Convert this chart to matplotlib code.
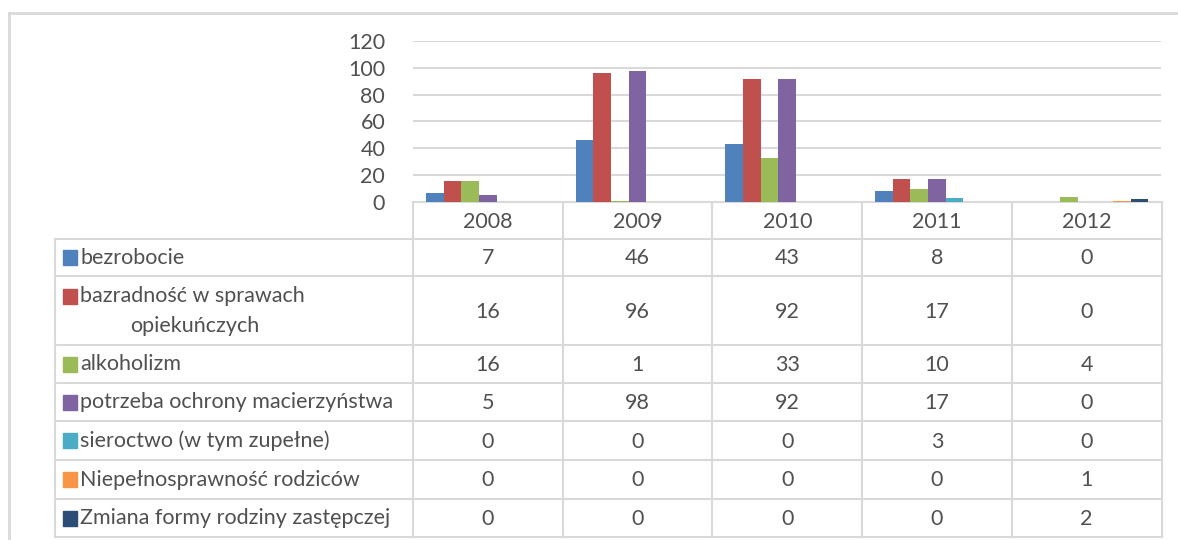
import matplotlib.pyplot as plt
import numpy as np

# data
years = ['2008', '2009', '2010', '2011', '2012']
series_names = ['bezrobocie',
                'bazradność w sprawach\nopiekuńczych',
                'alkoholizm',
                'potrzeba ochrony macierzyństwa',
                'sieroctwo (w tym zupełne)',
                'Niepełnosprawność rodziców',
                'Zmiana formy rodziny zastępczej']
bezrobocie = [7, 46, 43, 8, 0]
bezradnosc = [16, 96, 92, 17, 0]
alkoholizm = [16, 1, 33, 10, 4]
macierzynstwo = [5, 98, 92, 17, 0]
sieroctwo = [0, 0, 0, 3, 0]
niepelnosprawnosc = [0, 0, 0, 0, 1]
zmiana_formy = [0, 0, 0, 0, 2]
series = [bezrobocie, bezradnosc, alkoholizm, macierzynstwo,
          sieroctwo, niepelnosprawnosc, zmiana_formy]
colors = ['#4F81BD', '#C0504D', '#9BBB59', '#8064A2',
          '#4BACC6', '#F79646', '#2C4D75']
y_ticks = [0, 20, 40, 60, 80, 100, 120]

plt.rcParams['font.family'] = ['Lato', 'DejaVu Sans']
TXT = '#505050'
GRID = '#D9D9D9'
FS_LABEL = 15.5
FS_NUM = 15.5

W, H = 1178, 540
fig = plt.figure(figsize=(W / 100, H / 100), dpi=100)

# pixel layout
x0, x1 = 413, 1161.5
y_top, y_axis = 41, 202
ax = fig.add_axes([x0 / W, 1 - y_axis / H, (x1 - x0) / W, (y_axis - y_top) / H])
ax.set_xlim(-0.5, len(years) - 0.5)
ax.set_ylim(0, 120)
ax.set_yticks(y_ticks)
ax.set_xticks([])
ax.yaxis.grid(True, color=GRID, lw=1.5)
ax.set_axisbelow(True)
for s in ax.spines.values():
    s.set_visible(False)
ax.tick_params(axis='y', length=0, pad=20, labelsize=FS_NUM, labelcolor=TXT)

bw = 0.118
x = np.arange(len(years))
for j, vals in enumerate(series):
    ax.bar(x + (j - 3) * bw, vals, width=bw, color=colors[j], zorder=3)

# overlay in pixel coords for the data table
ov = fig.add_axes([0, 0, 1, 1], zorder=-1)
ov.set_xlim(0, W)
ov.set_ylim(H, 0)
ov.axis('off')

# outer chart border
ov.plot([9, W], [12.5, 12.5], color=GRID, lw=2)
ov.plot([9, 9], [12.5, H], color=GRID, lw=2)

col_w = (x1 - x0) / len(years)
col_edges = [x0 + i * col_w for i in range(len(years) + 1)]
row_edges = [239, 276, 345, 383, 421, 460, 499, 537]
tab_left = 55

ov.plot([x0, x1], [y_axis, y_axis], color=GRID, lw=1.5)
for r in row_edges:
    ov.plot([tab_left, x1], [r, r], color=GRID, lw=1.5)
ov.plot([tab_left, tab_left], [row_edges[0], row_edges[-1]], color=GRID, lw=1.5)
for c in col_edges:
    ov.plot([c, c], [y_axis, row_edges[-1]], color=GRID, lw=1.5)

for i, yr in enumerate(years):
    ov.text(col_edges[i] + col_w / 2, (y_axis + row_edges[0]) / 2 + 1, yr,
            ha='center', va='center', fontsize=FS_NUM, color=TXT)

for j, name in enumerate(series_names):
    top, bot = row_edges[j], row_edges[j + 1]
    cy = (top + bot) / 2
    lines = name.split('\n')
    if len(lines) == 1:
        ly = cy
    else:
        ly = cy - 14
    ov.add_patch(plt.Rectangle((63, ly - 7.5), 14, 15, color=colors[j]))
    ov.text(80, ly, lines[0], ha='left', va='center', fontsize=FS_LABEL, color=TXT)
    if len(lines) > 1:
        ov.text(130, cy + 15, lines[1], ha='left', va='center', fontsize=FS_LABEL, color=TXT)
    for i, v in enumerate(series[j]):
        ov.text(col_edges[i] + col_w / 2, cy + 1, str(v),
                ha='center', va='center', fontsize=FS_NUM, color=TXT)

fig.savefig('out.png', dpi=100, facecolor='white')
